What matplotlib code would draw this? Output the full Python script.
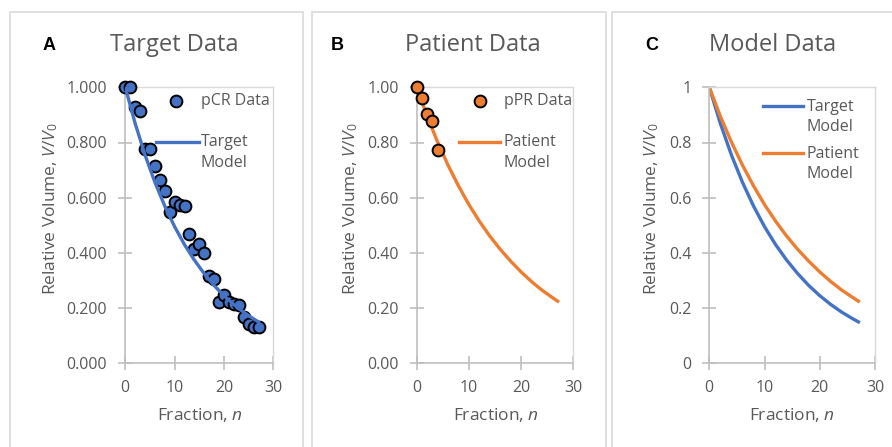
import matplotlib
matplotlib.use("Agg")
import matplotlib.pyplot as plt
from matplotlib.patches import Rectangle
from matplotlib.lines import Line2D

plt.rcParams["font.family"] = ["Open Sans", "DejaVu Sans"]
plt.rcParams["mathtext.fontset"] = "custom"
plt.rcParams["mathtext.rm"] = "Open Sans"
plt.rcParams["mathtext.it"] = "Open Sans:italic"

pcr_n = [0, 1, 2, 3, 4, 5, 6, 7, 8, 9, 10, 11, 12, 13, 14, 15, 16, 17, 18, 19,
         20, 21, 22, 23, 24, 25, 26, 27]
pcr_v = [1.0, 1.0, 0.93, 0.915, 0.775, 0.775, 0.716, 0.664, 0.625, 0.547, 0.583,
         0.572, 0.571, 0.468, 0.413, 0.432, 0.398, 0.316, 0.307, 0.222, 0.247,
         0.222, 0.215, 0.211, 0.167, 0.142, 0.13, 0.13]

ppr_n = [0, 1, 2, 3, 4]
ppr_v = [1.0, 0.96, 0.902, 0.879, 0.773]

# model curves
model_n = [0, 2, 4, 6, 8, 10, 12, 14, 16, 18, 20, 22, 24, 26, 27]
target_model = [1.0, 0.869, 0.755, 0.656, 0.570, 0.495, 0.430, 0.374, 0.325,
                0.282, 0.245, 0.213, 0.185, 0.161, 0.150]
patient_model = [1.0, 0.895, 0.802, 0.718, 0.643, 0.575, 0.515, 0.461, 0.413,
                 0.370, 0.331, 0.296, 0.265, 0.238, 0.225]

BLUE = "#4472C4"
ORANGE = "#ED7D31"
TXT = "#595959"
FS = 11.5

W, H = 892, 447
fig = plt.figure(figsize=(W / 100, H / 100), dpi=100)


def px(x, y):
    return x / W, 1 - y / H


# panel frames
for x0, x1 in [(10, 303), (312, 606), (612, 905)]:
    fig.patches.append(Rectangle(px(x0, 470), (x1 - x0) / W, (470 - 12) / H,
                                 transform=fig.transFigure, fill=False,
                                 edgecolor="#d9d9d9", lw=1.2))


def make_axes(x0, x1, fmt):
    l, b = px(x0, 363.3)
    ax = fig.add_axes([l, b, (x1 - x0) / W, 276 / H])
    ax.set_xlim(0, 30)
    ax.set_ylim(0, 1)
    ax.set_xticks([0, 10, 20, 30])
    ax.set_yticks([0, 0.2, 0.4, 0.6, 0.8, 1.0])
    ax.set_yticklabels([fmt(v) for v in [0, 0.2, 0.4, 0.6, 0.8, 1.0]])
    for s in ["left", "bottom"]:
        ax.spines[s].set_color("#bfbfbf")
        ax.spines[s].set_linewidth(1.2)
    for s in ["top", "right"]:
        ax.spines[s].set_color("#d9d9d9")
        ax.spines[s].set_linewidth(1.0)
    ax.tick_params(direction="inout", length=10, width=1.2, color="#bfbfbf",
                   labelcolor=TXT, labelsize=FS)
    ax.tick_params(axis="y", pad=8)
    ax.tick_params(axis="x", pad=7)
    return ax


mk = dict(marker="o", ms=8.5, mec="black", mew=1.4, ls="none", clip_on=False)


def key_marker(x, y, color):
    fig.add_artist(Line2D([x / W], [1 - y / H], transform=fig.transFigure,
                          mfc=color, **mk))


def key_line(x0, x1, y, color):
    fig.add_artist(Line2D([x0 / W, x1 / W], [1 - y / H, 1 - y / H],
                          transform=fig.transFigure, color=color, lw=2.4))


def key_text(x, y, s):
    fig.text(*px(x, y), s, fontsize=FS, color=TXT, ha="left", va="center",
             linespacing=1.4)


# A
axA = make_axes(125.3, 273.3, lambda v: f"{v:.3f}")
axA.plot(pcr_n, pcr_v, mfc=BLUE, zorder=3, **mk)
axA.plot(model_n, target_model, color=BLUE, lw=2.4, zorder=4)
key_marker(176, 101, BLUE)
key_text(201, 101, "pCR Data")
key_line(156, 199, 141.7, BLUE)
key_text(201, 152.5, "Target\nModel")

# B
axB = make_axes(416.7, 573.3, lambda v: f"{v:.2f}")
axB.plot(model_n, patient_model, color=ORANGE, lw=2.4, zorder=3)
axB.plot(ppr_n, ppr_v, mfc=ORANGE, zorder=4, **mk)
key_marker(480, 101, ORANGE)
key_text(504, 101, "pPR Data")
key_line(459, 500, 141.7, ORANGE)
key_text(504, 152.5, "Patient\nModel")

# C
axC = make_axes(709.3, 875.0, lambda v: f"{v:g}")
axC.plot(model_n, target_model, color=BLUE, lw=2.4)
axC.plot(model_n, patient_model, color=ORANGE, lw=2.4)
key_line(763, 803, 106, BLUE)
key_text(807, 117, "Target\nModel")
key_line(763, 803, 152.7, ORANGE)
key_text(807, 164, "Patient\nModel")

# titles, panel letters and axis labels
for letter, lx, title, tx, ylx, xlx in [("A", 49, "Target Data", 174, 51, 200),
                                        ("B", 337, "Patient Data", 473, 351, 496),
                                        ("C", 652, "Model Data", 773, 652, 792)]:
    fig.text(*px(lx, 46), letter, family="Liberation Sans", weight="bold",
             fontsize=13, ha="center", va="center", color="black")
    fig.text(*px(tx, 45), title, fontsize=17, ha="center", va="center", color=TXT)
    fig.text(*px(ylx, 209), r"Relative Volume, $V/V_0$", rotation=90,
             fontsize=12.5, ha="center", va="center", color=TXT)
    fig.text(*px(xlx, 415), r"Fraction, $n$", fontsize=12.5, ha="center",
             va="center", color=TXT)

fig.savefig("out.png", dpi=100)
